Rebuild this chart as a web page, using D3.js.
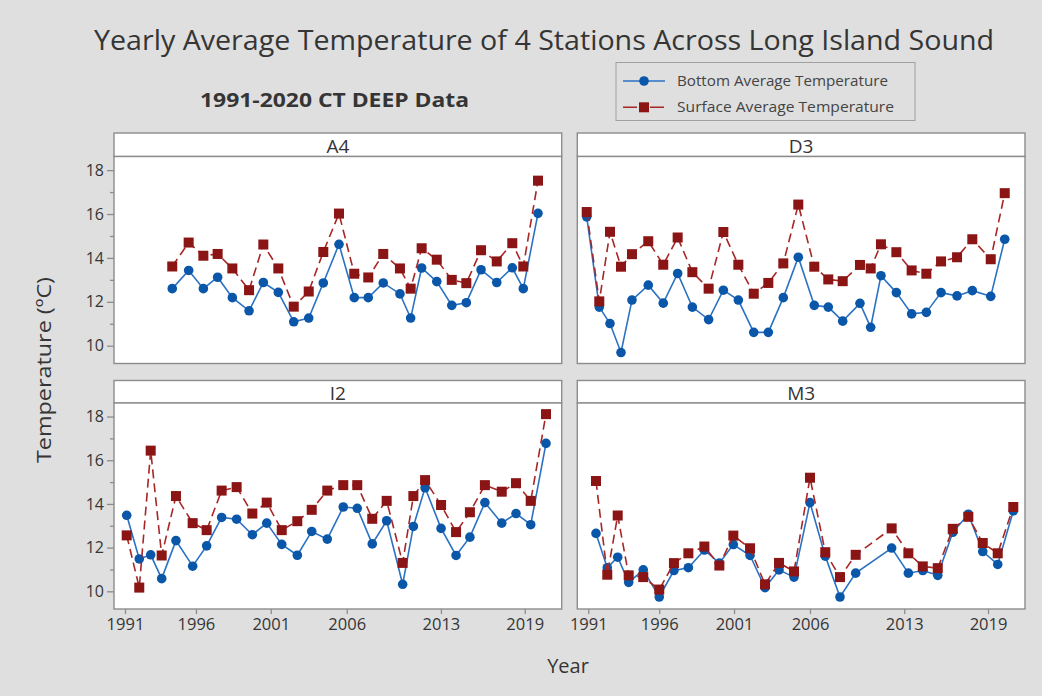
<!DOCTYPE html>
<html>
<head>
<meta charset="utf-8">
<script src="https://cdn.jsdelivr.net/npm/d3@7"></script>
<style>
  body { margin: 0; background: #dfdfdf; }
  svg { display: block; font-family: 'Open Sans', 'Noto Sans', sans-serif; }
</style>
</head>
<body>
<svg id="chart" width="1042" height="696"></svg>
<script>
// panels, in the order they sit on the 2x2 grid
let stations = ['A4', 'D3', 'I2', 'M3']

// x tick labels and where they land on the time axis
let tickLabels = ['1991', '1996', '2001', '2006', '2013', '2019']
let tickAt = [1991.0, 1995.97, 2001.21, 2006.53, 2013.13, 2019.0]

let yTicks = [10, 12, 14, 16, 18]
let yMinor = [11, 13, 15, 17]

// A4 (no data before 1994)
let a4Date = [1994.31, 1995.46, 1996.49, 1997.49, 1998.52, 1999.69, 2000.69, 2001.74, 2002.82, 2003.87, 2004.89, 2005.99, 2007.06,
  2008.04, 2009.09, 2010.26, 2011.01, 2011.78, 2012.84, 2013.89, 2014.91, 2015.94, 2017.04, 2018.13, 2018.90, 2019.93]
let a4Bottom = [12.60, 13.43, 12.60, 13.12, 12.19, 11.59, 12.88, 12.43, 11.09, 11.26, 12.86, 14.62, 12.19,
  12.19, 12.86, 12.36, 11.26, 13.54, 12.92, 11.84, 11.96, 13.46, 12.88, 13.55, 12.60, 16.03]
let a4Surface = [13.61, 14.70, 14.10, 14.18, 13.52, 12.53, 14.61, 13.52, 11.78, 12.47, 14.27, 16.02, 13.28,
  13.11, 14.18, 13.52, 12.60, 14.44, 13.92, 13.00, 12.85, 14.35, 13.84, 14.67, 13.61, 17.52]

// D3
let d3Date = [1990.89, 1991.77, 1992.52, 1993.29, 1994.06, 1995.20, 1996.25, 1997.26, 1998.29, 1999.43, 2000.46, 2001.51, 2002.59, 2003.61, 2004.66,
  2005.71, 2006.83, 2007.81, 2008.82, 2010.03, 2010.78, 2011.50, 2012.58, 2013.65, 2014.68, 2015.71, 2016.83, 2017.90, 2019.19, 2020.17]
let d3Bottom = [15.87, 11.76, 11.01, 9.69, 12.08, 12.76, 11.94, 13.29, 11.76, 11.19, 12.53, 12.08, 10.61, 10.61, 12.19,
  14.03, 11.84, 11.76, 11.12, 11.93, 10.84, 13.19, 12.42, 11.45, 11.52, 12.42, 12.27, 12.51, 12.25, 14.85]
let d3Surface = [16.09, 12.02, 15.19, 13.60, 14.17, 14.76, 13.69, 14.93, 13.35, 12.60, 15.18, 13.69, 12.37, 12.86, 13.75,
  16.43, 13.60, 13.02, 12.94, 13.68, 13.52, 14.62, 14.26, 13.43, 13.28, 13.84, 14.03, 14.85, 13.94, 16.95]

// I2
let i2Date = [1991.12, 1992.00, 1992.80, 1993.57, 1994.57, 1995.74, 1996.72, 1997.77, 1998.82, 1999.92, 2000.93, 2001.98, 2003.07, 2004.08, 2005.17,
  2006.29, 2007.27, 2008.32, 2009.33, 2010.45, 2011.20, 2012.02, 2013.14, 2014.19, 2015.16, 2016.21, 2017.39, 2018.39, 2019.42, 2020.49]
let i2Bottom = [13.48, 11.48, 11.67, 10.58, 12.32, 11.15, 12.08, 13.38, 13.30, 12.59, 13.12, 12.15, 11.65, 12.74, 12.39,
  13.86, 13.80, 12.17, 13.23, 10.32, 12.97, 14.74, 12.88, 11.64, 12.48, 14.06, 13.12, 13.56, 13.05, 16.77]
let i2Surface = [12.56, 10.17, 16.44, 11.64, 14.36, 13.12, 12.80, 14.61, 14.77, 13.56, 14.06, 12.80, 13.21, 13.73, 14.61,
  14.86, 14.86, 13.32, 14.14, 11.30, 14.36, 15.09, 13.95, 12.71, 13.62, 14.86, 14.56, 14.95, 14.14, 18.11]

// M3 (2010 and 2011 missing)
let m3Date = [1991.54, 1992.33, 1993.06, 1993.83, 1994.85, 1995.97, 1997.00, 1998.01, 1999.13, 2000.18, 2001.16, 2002.33, 2003.38, 2004.36,
  2005.41, 2006.53, 2007.60, 2008.63, 2009.73, 2012.25, 2013.42, 2014.43, 2015.48, 2016.53, 2017.62, 2018.63, 2019.68, 2020.77]
let m3Bottom = [12.65, 11.08, 11.56, 10.41, 10.98, 9.74, 10.95, 11.08, 11.89, 11.29, 12.14, 11.64, 10.17, 10.98,
  10.65, 14.06, 11.61, 9.74, 10.83, 11.98, 10.83, 10.95, 10.73, 12.70, 13.53, 11.82, 11.23, 13.68]
let m3Surface = [15.05, 10.76, 13.47, 10.73, 10.65, 10.08, 11.29, 11.74, 12.05, 11.18, 12.55, 11.97, 10.32, 11.30,
  10.91, 15.20, 11.79, 10.65, 11.67, 12.88, 11.74, 11.14, 11.06, 12.86, 13.41, 12.21, 11.74, 13.86]

let series = {
  A4: {date: a4Date, bottom: a4Bottom, surface: a4Surface},
  D3: {date: d3Date, bottom: d3Bottom, surface: d3Surface},
  I2: {date: i2Date, bottom: i2Bottom, surface: i2Surface},
  M3: {date: m3Date, bottom: m3Bottom, surface: m3Surface}
}

// grid layout (pixels)
let colX = [114, 577.3],
    panelW = 447.7,
    stripTop = [133, 380.5],
    plotTop = [156.5, 403],
    plotBot = [363.5, 609]

let blue = '#0a56a8', blueLine = '#2b72c4',
    red = '#8b1414', redLine = '#a82626',
    frame = '#8c8c8c', ink = '#353535',
    dash = '9,5'

let svg = d3.select('#chart')

svg.append('rect')
  .attr('width', 1042).attr('height', 696)
  .attr('fill', '#dfdfdf')

// titles
svg.append('text')
  .attr('x', 544).attr('y', 50)
  .attr('text-anchor', 'middle')
  .attr('font-size', 27)
  .attr('fill', ink)
  .attr('textLength', 900).attr('lengthAdjust', 'spacingAndGlyphs')
  .text('Yearly Average Temperature of 4 Stations Across Long Island Sound')

svg.append('text')
  .attr('x', 334.5).attr('y', 106.5)
  .attr('text-anchor', 'middle')
  .attr('font-size', 20).attr('font-weight', 'bold')
  .attr('fill', ink)
  .attr('textLength', 269).attr('lengthAdjust', 'spacingAndGlyphs')
  .text('1991-2020 CT DEEP Data')

// legend
let legend = svg.append('g')
legend.append('rect')
  .attr('x', 616).attr('y', 62.5).attr('width', 299).attr('height', 58)
  .attr('fill', 'none').attr('stroke', '#a0a0a0')

let legendRows = [
  {label: 'Bottom Average Temperature', color: blue, line: blueLine, dash: null, shape: 'circle', len: 211},
  {label: 'Surface Average Temperature', color: red, line: redLine, dash: '14,13', shape: 'square', len: 217}
]
legendRows.forEach((r, i) => {
  let ly = 81 + i * 26.3
  legend.append('line')
    .attr('x1', 623).attr('x2', 665).attr('y1', ly).attr('y2', ly)
    .attr('stroke', r.line).attr('stroke-width', 1.6)
    .attr('stroke-dasharray', r.dash)
  if (r.shape === 'circle') {
    legend.append('circle').attr('cx', 644).attr('cy', ly).attr('r', 4.8).attr('fill', r.color)
  } else {
    legend.append('rect').attr('x', 639).attr('y', ly - 5).attr('width', 10).attr('height', 10).attr('fill', r.color)
  }
  legend.append('text')
    .attr('x', 677).attr('y', ly + 5)
    .attr('font-size', 14.5).attr('fill', '#444')
    .attr('textLength', r.len).attr('lengthAdjust', 'spacingAndGlyphs')
    .text(r.label)
})

// axis titles
svg.append('text')
  .attr('transform', 'translate(51,370) rotate(-90)')
  .attr('text-anchor', 'middle')
  .attr('font-size', 20).attr('fill', ink)
  .attr('textLength', 186).attr('lengthAdjust', 'spacingAndGlyphs')
  .text('Temperature (ºC)')

svg.append('text')
  .attr('x', 568).attr('y', 673)
  .attr('text-anchor', 'middle')
  .attr('font-size', 20).attr('fill', ink)
  .text('Year')

stations.forEach((name, i) => {
  let col = i % 2,
      row = Math.floor(i / 2),
      x0 = colX[col],
      s = series[name]

  let x = d3.scaleLinear().domain([1990.23, 2021.59]).range([x0, x0 + panelW])
  let y = d3.scaleLinear().domain([9.19, 18.62]).range([plotBot[row], plotTop[row]])

  let g = svg.append('g')

  // strip with the station name
  g.append('rect')
    .attr('x', x0).attr('y', stripTop[row])
    .attr('width', panelW).attr('height', plotTop[row] - stripTop[row])
    .attr('fill', '#fff').attr('stroke', frame).attr('stroke-width', 1.4)
  g.append('text')
    .attr('x', x0 + panelW / 2).attr('y', plotTop[row] - 3.5)
    .attr('text-anchor', 'middle')
    .attr('font-size', 19).attr('fill', ink)
    .text(name)

  g.append('rect')
    .attr('x', x0).attr('y', plotTop[row])
    .attr('width', panelW).attr('height', plotBot[row] - plotTop[row])
    .attr('fill', '#fff').attr('stroke', frame).attr('stroke-width', 1.4)

  // y axis only on the left column
  if (col === 0) {
    let ya = g.append('g')
      .attr('transform', `translate(${x0},0)`)
      .call(d3.axisLeft(y).tickValues(yTicks).tickSize(7).tickPadding(3))
    let ym = g.append('g')
      .attr('transform', `translate(${x0},0)`)
      .call(d3.axisLeft(y).tickValues(yMinor).tickSize(4).tickFormat(''))
    ;[ya, ym].forEach(a => {
      a.select('.domain').remove()
      a.selectAll('line').attr('stroke', frame).attr('stroke-width', 1.3)
      a.selectAll('text')
        .attr('font-family', "'Open Sans', 'Noto Sans', sans-serif")
        .attr('font-size', 16).attr('fill', ink)
    })
  }

  // x axis only on the bottom row
  if (row === 1) {
    let xa = g.append('g')
      .attr('transform', `translate(0,${plotBot[row]})`)
      .call(d3.axisBottom(x).tickValues(tickAt).tickFormat((d, k) => tickLabels[k]).tickSize(5).tickPadding(4))
    xa.select('.domain').remove()
    xa.selectAll('line').attr('stroke', frame).attr('stroke-width', 1.3)
    xa.selectAll('text')
      .attr('font-family', "'Open Sans', 'Noto Sans', sans-serif")
      .attr('font-size', 16.5).attr('fill', ink)
  }

  let pts = s.date.map((d, k) => ({date: d, bottom: s.bottom[k], surface: s.surface[k]}))

  // bottom temperature: solid blue with circles
  g.append('path')
    .datum(pts)
    .attr('fill', 'none')
    .attr('stroke', blueLine).attr('stroke-width', 1.6)
    .attr('d', d3.line().x(d => x(d.date)).y(d => y(d.bottom)))
  g.selectAll('.dot')
    .data(pts)
    .join('circle')
    .attr('cx', d => x(d.date)).attr('cy', d => y(d.bottom))
    .attr('r', 4.8).attr('fill', blue)

  // surface temperature: dashed red with squares
  g.append('path')
    .datum(pts)
    .attr('fill', 'none')
    .attr('stroke', redLine).attr('stroke-width', 1.6)
    .attr('stroke-dasharray', dash)
    .attr('d', d3.line().x(d => x(d.date)).y(d => y(d.surface)))
  g.selectAll('.sq')
    .data(pts)
    .join('rect')
    .attr('x', d => x(d.date) - 5).attr('y', d => y(d.surface) - 5)
    .attr('width', 10).attr('height', 10)
    .attr('fill', red)
})
</script>
</body>
</html>
